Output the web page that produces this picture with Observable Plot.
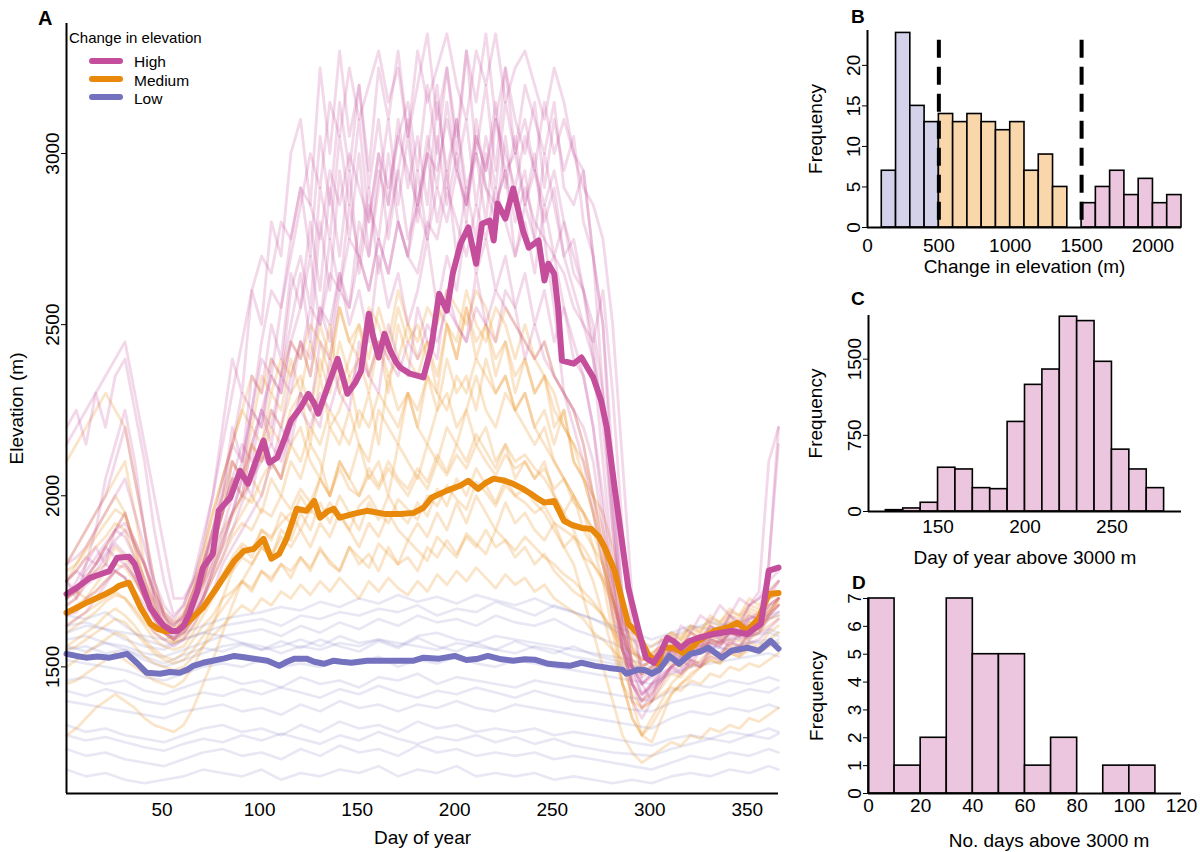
<!DOCTYPE html>
<html><head><meta charset="utf-8">
<script src="https://cdn.jsdelivr.net/npm/d3@7"></script>
<script src="https://cdn.jsdelivr.net/npm/@observablehq/plot@0.6"></script>
<style>
body{margin:0;background:#fff;font-family:"Liberation Sans",Arial,Helvetica,sans-serif;}
#wrap{position:relative;width:1200px;height:852px;overflow:hidden;background:#fff;}
.panel{position:absolute;}
#overlay{position:absolute;left:0;top:0;pointer-events:none;}
</style></head>
<body><div id="wrap">
<div class="panel" id="pA" style="left:0;top:0"></div>
<div class="panel" id="pB" style="left:790px;top:0"></div>
<div class="panel" id="pC" style="left:790px;top:290px"></div>
<div class="panel" id="pD" style="left:790px;top:570px"></div>
<svg id="overlay" width="1200" height="852" font-family="Liberation Sans, Arial, Helvetica, sans-serif">
  <text x="38" y="25" font-size="20" font-weight="bold">A</text>
  <text x="851" y="23" font-size="19" font-weight="bold">B</text>
  <text x="851" y="305" font-size="19" font-weight="bold">C</text>
  <text x="852" y="589" font-size="19" font-weight="bold">D</text>
  <text x="69" y="42.5" font-size="15">Change in elevation</text>
  <line x1="92" x2="120" y1="61" y2="61" stroke="#c44e9c" stroke-width="6" stroke-linecap="round"/>
  <line x1="92" x2="120" y1="79" y2="79" stroke="#e8890c" stroke-width="6" stroke-linecap="round"/>
  <line x1="92" x2="120" y1="97" y2="97" stroke="#7472be" stroke-width="6" stroke-linecap="round"/>
  <text x="134" y="66.7" font-size="15.5">High</text>
  <text x="134" y="85.5" font-size="15.5">Medium</text>
  <text x="134" y="104" font-size="15.5">Low</text>
</svg>
</div>
<script>
const FONT = '"Liberation Sans", Arial, Helvetica, sans-serif';
const groupColor = {High: "#c44e9c", Medium: "#e8890c", Low: "#7472be"};
const histColor = {High: "#ecc5de", Medium: "#fad6ab", Low: "#d4d2ea"};

// ---------- Panel A: mean tracks ----------
const highDay = [1,6,13,18,23,27,33,36,39,44,48,51,55,58,61,64,68,71,76,79,85,90,94,98,102,105,109,113,116,121,125,128,130,135,140,143,145,149,152,156,158,161,164,167,170,172,177,184,188,192,196,199,203,207,211,214,218,220,222,226,230,235,238,243,246,248,251,253,255,261,265,268,271,275,278,282,289,294,298,302,306,309,312,316,320,325,333,342,350,357,361,366];
const highElev = [1713,1730,1760,1770,1780,1819,1822,1800,1751,1673,1640,1620,1605,1605,1620,1655,1720,1790,1830,1956,1995,2073,2035,2100,2161,2097,2111,2170,2219,2257,2298,2270,2240,2320,2400,2340,2298,2330,2365,2532,2470,2404,2473,2424,2390,2375,2357,2346,2433,2590,2541,2649,2737,2784,2678,2795,2804,2746,2854,2810,2898,2775,2725,2746,2629,2678,2649,2550,2395,2386,2404,2375,2346,2280,2199,2023,1731,1614,1526,1512,1547,1585,1576,1556,1575,1585,1596,1605,1596,1626,1781,1790];
const medDay = [1,6,11,16,21,25,28,33,36,39,44,48,51,58,64,71,78,83,87,92,97,102,106,110,114,119,124,128,131,135,138,141,148,155,164,172,179,184,188,196,203,207,212,216,220,225,230,235,239,243,246,251,256,260,265,270,274,277,282,285,289,294,299,304,307,312,318,325,333,340,345,350,356,361,366];
const medElev = [1658,1672,1687,1700,1713,1725,1737,1746,1710,1673,1626,1610,1605,1605,1635,1673,1731,1775,1810,1839,1845,1874,1816,1830,1877,1962,1956,1985,1936,1955,1962,1936,1947,1956,1947,1947,1950,1965,1994,2015,2030,2044,2020,2038,2050,2045,2035,2020,2006,1990,1980,1985,1927,1915,1906,1903,1880,1848,1781,1713,1626,1596,1538,1509,1556,1556,1538,1576,1605,1615,1629,1605,1643,1713,1716];
const lowDay = [1,6,11,17,23,28,32,37,42,49,54,59,63,66,71,76,82,87,92,97,104,110,114,118,124,128,133,138,142,147,155,162,172,179,184,192,200,206,212,217,224,230,236,241,248,253,259,265,272,279,286,288,294,298,301,305,310,315,321,326,330,337,342,350,356,362,366];
const lowElev = [1538,1532,1527,1530,1527,1533,1538,1512,1483,1480,1485,1483,1492,1503,1512,1518,1525,1532,1528,1524,1518,1503,1515,1524,1524,1515,1509,1518,1515,1512,1518,1518,1518,1518,1527,1524,1532,1520,1524,1532,1522,1518,1522,1521,1509,1506,1503,1512,1503,1497,1492,1480,1492,1490,1480,1492,1532,1509,1538,1545,1556,1527,1547,1556,1547,1576,1553];

// ---------- Panel A: individual tracks (faint) ----------
const fiveDays = [1,6,11,16,21,26,31,36,41,46,51,56,61,66,71,76,81,86,91,96,101,106,111,116,121,126,131,136,141,146,151,156,161,166,171,176,181,186,191,196,201,206,211,216,221,226,231,236,241,246,251,256,261,266,271,276,281,286,291,296,301,306,311,316,321,326,331,336,341,346,351,356,361,366];
const tenDays = [1,11,21,31,41,51,61,71,81,91,101,111,121,131,141,151,161,171,181,191,201,211,221,231,241,251,261,271,281,291,301,311,321,331,341,351,361,366];

const highTrack1 = [1750,1780,1820,1800,1850,1900,1880,1820,1760,1680,1620,1600, 1640,1720,1800,1900,2050,2150,2300,2250,2450,2600,2550,2750, 2900,2700,3050,2850,3150,2950,3200,2900,3100,2850,3050,3150, 2950,3200,3000,3250,3050,3300,3000,3200,2950,3250,3100,3000, 3150,2900,3100,2950,3050,2800,2700,2500,2100,1700,1500,1450, 1480,1520,1560,1550,1600,1580,1620,1600,1650,1620,1680,1700,1750,1780];
const highTrack2 = [1750,1700,1800,1900,2050,2150,2250,2100,1900,1700,1620,1580, 1620,1700,1780,1900,2000,2200,2100,2350,2300,2500,2400,2650, 2550,2800,2600,2900,2700,2950,2650,2850,2750,3000,2800,2700, 2950,2750,3050,2850,3000,2800,3100,2900,2800,3050,2850,2950, 2750,3000,2850,2700,2600,2500,2450,2600,2300,1900,1600,1500, 1520,1580,1550,1620,1600,1650,1630,1680,1650,1700,1680,1720,2100,2200];
const highTrack3 = [2200,2250,2150,2300,2200,2350,2400,2250,2100,1900,1750,1650, 1680,1750,1850,2000,2200,2400,2300,2600,2500,2800,2700,3000, 3100,2850,3250,3000,3300,3050,3200,2950,3250,3100,3300,3050, 3200,3350,3100,3250,3000,3300,3150,3350,3100,3250,3000,3200, 3100,3000,3150,2900,2850,2950,2700,2500,2000,1600,1400,1350, 1400,1450,1500,1480,1520,1500,1550,1530,1580,1560,1600,1620,1680,1700];
const highTrack4 = [1700,1720,1750,1780,1820,1860,1830,1780,1700,1650,1600,1580, 1600,1640,1700,1780,1850,1950,2050,2000,2150,2250,2200,2350, 2450,2350,2550,2450,2650,2500,2600,2450,2700,2550,2650,2500, 2600,2750,2550,2700,2600,2800,2650,2750,2600,2700,2550,2650, 2500,2600,2450,2550,2400,2350,2200,1950,1750,1600,1500,1450, 1480,1500,1550,1530,1570,1550,1600,1580,1620,1600,1640,1660,1700,1750];
const highTrack5 = [1800,1850,1900,1950,2000,2100,2200,2050,1900,1750,1650,1620, 1650,1700,1750,1850,1950,2100,2050,2250,2200,2400,2350,2600, 2700,2550,2900,2750,3050,2850,3100,2800,3000,2750,2950,3100, 2850,3050,2900,3150,2950,3100,2850,3050,2900,3150,3000,3100, 2950,3150,3000,3100,3000,2900,2850,2750,2500,2100,1700,1450, 1400,1500,1550,1500,1580,1560,1620,1600,1650,1630,1680,1700,1720,1750];
const highTrack6 = [1650,1660,1700,1720,1750,1780,1760,1700,1650,1600,1580,1560, 1580,1620,1680,1720,1800,1850,1900,1950,2000,2100,2050,2200, 2300,2250,2450,2400,2600,2550,2800,2700,2950,2850,3100,2900, 3050,2850,3150,2950,3100,2900,3000,2800,3100,2950,3000,2850, 2950,2800,2900,2700,2750,2600,2400,2100,1800,1550,1450,1400, 1450,1480,1500,1520,1500,1550,1540,1580,1560,1600,1580,1620,1800,2150];
const highTrack7 = [1700,1750,1800,1850,1800,1900,1950,1850,1800,1700,1640,1620, 1650,1720,1800,1880,1950,2050,2150,2100,2250,2350,2300,2450, 2550,2700,2500,2750,2600,2850,2700,2900,2650,2800,2950,2750, 2850,3000,2800,2950,2700,2900,2750,3000,2850,2950,2700,2800, 2650,2850,2700,2800,2650,2600,2500,2300,2000,1700,1500,1420, 1450,1500,1520,1560,1540,1580,1600,1590,1620,1610,1650,1640,1680,1700];
const highTrack8 = [1750,1720,1780,1820,1860,1900,1920,1870,1800,1720,1650,1600, 1620,1680,1760,1850,1950,2050,2000,2150,2250,2150,2350,2500, 2650,2450,2800,2600,2950,2750,3000,2700,2900,3100,2850,3050, 2800,3000,3200,2900,3100,2850,3050,2950,3150,2900,3050,2850, 3000,2750,2550,2300,2200,2100,1950,1800,1650,1550,1480,1420, 1450,1470,1500,1530,1520,1550,1570,1560,1600,1590,1620,1610,1650,1680];
const highTrack9 = [1700,1730,1760,1800,1850,1820,1800,1760,1700,1650,1620,1600, 1620,1660,1720,1800,1880,1950,2000,2050,2100,2150,2100,2200, 2250,2200,2300,2250,2350,2300,2400,2350,2450,2400,2350,2450, 2400,2500,2450,2550,2500,2450,2550,2500,2600,2550,2500,2450, 2400,2450,2350,2300,2250,2200,2100,1900,1700,1550,1500,1480, 1500,1520,1550,1540,1570,1560,1600,1590,1620,1610,1640,1650,1700,1720];
const highTrack10 = [2150,2200,2250,2300,2350,2400,2450,2300,2150,2000,1850,1700, 1700,1750,1800,1900,2000,2150,2100,2250,2200,2350,2300,2450, 2400,2550,2500,2650,2600,2750,2700,2600,2750,2650,2800,2700, 2850,2750,2900,2800,2950,2850,3000,2900,2850,2950,2800,2900, 2800,2750,2700,2650,2550,2500,2400,2250,1950,1650,1450,1380, 1420,1460,1500,1520,1550,1540,1580,1570,1600,1590,1620,1640,1800,2200];
const highTrack11 = [1750,1780,1760,1800,1830,1870,1900,1860,1800,1720,1660,1630, 1640,1680,1740,1820,1900,2000,2100,2250,2400,2350,2550,2700, 2850,3000,2900,3150,3050,3250,3100,3200,3300,3150,3250,3050, 3300,3150,3250,3350,3200,3100,3300,3200,3350,3150,3250,3300, 3200,3100,3250,3150,3000,2950,2700,2300,1900,1600,1450,1400, 1430,1470,1500,1490,1520,1510,1550,1540,1570,1560,1590,1600,1640,1660];
const highTrack12 = [1680,1700,1740,1760,1800,1780,1760,1720,1680,1640,1600,1590, 1610,1650,1700,1760,1820,1900,1980,2050,2120,2080,2200,2150, 2300,2250,2200,2400,2300,2250,2450,2350,2300,2500,2400,2350, 2550,2450,2400,2600,2500,2450,2650,2500,2450,2600,2550,2400, 2500,2400,2350,2300,2250,2150,2000,1850,1700,1580,1500,1470, 1490,1510,1530,1520,1550,1540,1570,1560,1590,1580,1610,1620,1650,1680];
const highTrack13 = [1800,1820,1850,1900,1950,2000,2050,1950,1850,1750,1680,1640, 1680,1760,1880,2000,2150,2300,2450,2600,2700,2650,2800,2750, 2900,2850,2750,2950,2850,3000,2900,2800,3000,2900,3050,2950, 2850,3000,2950,3100,2950,2850,3050,2950,3100,3000,2900,3050, 2950,2850,2950,2800,2700,2600,2450,2200,1900,1650,1500,1450, 1470,1500,1530,1520,1560,1550,1580,1570,1600,1590,1620,1630,1660,1700];
const highTrack14 = [1620,1640,1660,1700,1740,1780,1800,1760,1700,1640,1600,1580, 1600,1640,1700,1780,1860,1950,2050,2150,2250,2200,2350,2300, 2450,2400,2550,2500,2650,2550,2700,2600,2750,2650,2800,2700, 2650,2800,2750,2900,2800,2700,2850,2750,2900,2800,2700,2850, 2750,2650,2700,2550,2450,2350,2200,2000,1750,1550,1450,1420, 1440,1460,1490,1480,1510,1500,1530,1520,1550,1540,1570,1580,1610,1640];

const medTrack1 = [1750,1780,1820,1850,1880,1920,1900,1820,1720,1650,1600,1580, 1620,1700,1800,1900,2000,2100,2050,2150,2100,2250,2200,2300, 2350,2250,2400,2300,2450,2350,2400,2300,2450,2350,2400,2500, 2400,2450,2350,2500,2400,2550,2450,2500,2400,2450,2350,2400, 2300,2350,2250,2200,2150,2100,2000,1950,1850,1700,1550,1500, 1520,1560,1600,1580,1620,1600,1650,1630,1670,1650,1700,1680,1720,1750];
const medTrack2 = [1650,1680,1700,1720,1750,1780,1760,1700,1650,1620,1600,1580, 1600,1650,1700,1780,1850,1900,1950,2000,1950,2050,2000,2100, 2050,2150,2100,2000,2100,2050,2150,2050,2100,2000,2150,2100, 2050,2150,2100,2200,2150,2250,2150,2200,2100,2150,2050,2100, 2050,2100,2000,1950,2000,1900,1850,1800,1700,1600,1520,1500, 1520,1550,1570,1560,1600,1580,1620,1600,1640,1620,1660,1650,1680,1700];
const medTrack3 = [1620,1640,1660,1680,1700,1720,1700,1660,1620,1580,1560,1550, 1560,1600,1650,1700,1750,1780,1820,1800,1850,1820,1880,1850, 1900,1850,1920,1880,1950,1900,1850,1920,1880,1950,1900,1870, 1920,1880,1950,1900,1980,1920,2000,1950,1900,1980,1920,1950, 1900,1870,1920,1850,1880,1820,1800,1750,1680,1600,1550,1520, 1540,1560,1580,1570,1600,1590,1610,1600,1630,1620,1650,1640,1660,1680];
const medTrack4 = [1700,1720,1760,1800,1850,1900,1950,1850,1750,1680,1620,1600, 1640,1720,1820,1950,2050,2150,2250,2200,2350,2300,2400,2350, 2450,2350,2500,2400,2550,2450,2500,2400,2550,2450,2600,2500, 2450,2550,2500,2600,2550,2500,2600,2550,2450,2550,2500,2450, 2400,2450,2350,2300,2250,2150,2000,1850,1650,1450,1350,1300, 1350,1400,1450,1480,1500,1520,1550,1530,1560,1550,1580,1600,1650,1700];
const medTrack5 = [1560,1580,1600,1620,1650,1670,1650,1620,1580,1550,1530,1520, 1540,1580,1620,1650,1700,1720,1750,1720,1780,1750,1800,1760, 1820,1780,1850,1800,1780,1850,1800,1830,1780,1850,1800,1820, 1780,1850,1820,1870,1830,1880,1850,1900,1850,1870,1820,1850, 1800,1830,1780,1750,1720,1700,1680,1650,1600,1550,1500,1480, 1500,1520,1540,1530,1560,1550,1580,1570,1600,1590,1620,1610,1640,1650];
const medTrack6 = [1800,1850,1900,1950,2000,2050,2100,1950,1800,1700,1650,1620, 1650,1720,1800,1850,1950,2050,2000,2150,2100,2200,2150,2250, 2300,2150,2350,2200,2250,2350,2200,2300,2150,2350,2250,2300, 2200,2350,2250,2400,2300,2350,2250,2400,2300,2350,2250,2300, 2200,2250,2150,2250,2100,2050,2000,1900,1750,1550,1400,1300, 1280,1350,1420,1450,1480,1500,1520,1510,1550,1540,1570,1560,1600,1620];
const medTrack7 = [1680,1700,1750,1780,1800,1850,1820,1760,1700,1640,1600,1570, 1590,1640,1700,1760,1820,1880,1920,1900,1960,1940,2000,1960, 2020,1980,2050,2000,2080,2020,2000,2060,2020,2080,2040,2000, 2060,2020,2100,2060,2120,2080,2150,2100,2060,2120,2080,2100, 2050,2080,2020,2050,1980,1950,1900,1850,1750,1650,1560,1520, 1540,1560,1590,1580,1610,1600,1630,1620,1650,1640,1670,1660,1700,1720];
const medTrack8 = [2100,2150,2200,2250,2300,2250,2200,2050,1900,1750,1650,1600, 1620,1680,1750,1850,1900,1950,2000,2050,2000,2100,2050,2150, 2100,2200,2150,2250,2200,2150,2250,2200,2300,2250,2200,2300, 2250,2350,2300,2250,2350,2300,2400,2350,2300,2350,2250,2300, 2200,2150,2100,2050,2000,1950,1850,1750,1600,1450,1350,1300, 1330,1380,1420,1450,1470,1500,1520,1510,1540,1530,1560,1550,1580,1600];
const medTrack9 = [1500,1520,1540,1560,1580,1600,1590,1560,1530,1510,1500,1490, 1500,1530,1560,1590,1620,1650,1680,1660,1700,1680,1720,1700, 1740,1710,1750,1720,1760,1730,1700,1750,1720,1760,1730,1710, 1750,1720,1770,1740,1780,1750,1790,1760,1730,1770,1740,1760, 1720,1740,1700,1680,1660,1640,1600,1580,1550,1520,1500,1480, 1490,1500,1510,1500,1520,1510,1530,1520,1540,1530,1550,1540,1560,1570];
const medTrack10 = [1750,1800,1850,1900,1950,2000,1950,1850,1750,1680,1620,1600, 1620,1680,1750,1850,1950,2100,2050,2200,2150,2300,2250,2400, 2300,2450,2350,2500,2300,2400,2500,2350,2450,2300,2500,2400, 2350,2450,2300,2500,2400,2550,2400,2500,2350,2450,2300,2400, 2300,2350,2200,2250,2100,2050,1950,1850,1700,1550,1450,1400, 1420,1460,1500,1520,1550,1540,1580,1570,1600,1590,1630,1620,1660,1700];
const medTrack11 = [1300,1320,1350,1380,1400,1420,1400,1380,1350,1330,1320,1310, 1330,1380,1450,1520,1600,1680,1750,1800,1850,1820,1900,1870, 1950,1900,1980,1920,2000,1950,1900,1980,1930,2000,1950,1920, 1980,1940,2020,1970,2050,2000,2080,2030,1980,2050,2000,2020, 1980,1950,1900,1850,1800,1700,1600,1500,1400,1300,1250,1220, 1240,1260,1280,1270,1300,1290,1320,1310,1330,1320,1350,1340,1360,1380];
const medTrack12 = [1450,1460,1480,1500,1520,1540,1520,1500,1480,1460,1450,1440, 1460,1500,1560,1620,1700,1780,1850,1820,1900,1870,1950,1920, 2000,1950,2050,2000,2100,2050,2000,2080,2030,2100,2050,2020, 2080,2040,2120,2070,2150,2100,2180,2130,2080,2150,2100,2120, 2080,2050,2000,1950,1900,1820,1750,1650,1550,1450,1400,1380, 1400,1420,1440,1430,1460,1450,1480,1470,1500,1490,1510,1500,1520,1540];
const medTrack13 = [1700,1720,1700,1740,1780,1800,1790,1750,1700,1660,1630,1610, 1630,1680,1740,1800,1870,1940,2000,1980,2050,2100,2050,2150, 2200,2100,2050,2200,2150,2250,2150,2100,2250,2200,2150,2300, 2200,2150,2250,2300,2200,2250,2350,2250,2200,2300,2250,2200, 2150,2200,2100,2050,2000,1950,1900,1800,1700,1600,1520,1480, 1500,1520,1550,1540,1570,1560,1590,1580,1610,1600,1630,1640,1670,1690];
const medTrack14 = [1600,1620,1640,1660,1690,1710,1700,1670,1630,1600,1580,1570, 1580,1620,1670,1720,1770,1820,1860,1840,1900,1880,1920,1950, 1900,1960,1930,1980,1940,1900,1970,2000,1950,1920,1990,1960, 1930,2000,1970,2030,1990,1960,2040,2010,1970,2030,2000,1980, 1950,1970,1920,1900,1880,1850,1800,1760,1700,1630,1580,1550, 1560,1580,1600,1590,1620,1610,1640,1630,1660,1650,1680,1670,1700,1710];
const medTrack15 = [1780,1800,1840,1880,1920,1960,1940,1870,1790,1720,1660,1630, 1660,1740,1840,1950,2050,2150,2250,2350,2300,2400,2350,2450, 2400,2500,2450,2350,2550,2450,2400,2550,2500,2400,2550,2450, 2500,2400,2550,2500,2450,2600,2500,2450,2550,2500,2400,2500, 2400,2350,2300,2200,2150,2050,1950,1800,1650,1500,1420,1380, 1400,1440,1480,1470,1510,1500,1540,1530,1570,1560,1600,1610,1650,1680];
const medTrack16 = [1550,1560,1580,1600,1620,1640,1630,1600,1570,1540,1520,1510, 1520,1550,1590,1630,1670,1710,1750,1730,1780,1760,1800,1780, 1820,1790,1840,1810,1780,1850,1820,1790,1860,1830,1800,1870, 1840,1810,1880,1850,1820,1890,1860,1830,1900,1870,1840,1880, 1850,1820,1800,1770,1750,1720,1690,1650,1610,1570,1540,1520, 1530,1540,1550,1545,1560,1555,1570,1565,1580,1575,1590,1600,1620,1640];

const lowTrack1 = [1600,1620,1610,1580,1560,1550,1580,1600,1620,1630,1640,1620,1650,1640,1660,1650,1670,1660,1680,1650,1670,1660,1690,1670,1650,1680,1660,1640,1620,1600,1580,1600,1620,1610,1630,1620,1640,1650];
const lowTrack2 = [1550,1560,1540,1550,1520,1500,1520,1540,1560,1570,1550,1560,1580,1560,1590,1570,1580,1560,1590,1600,1580,1570,1590,1580,1570,1560,1550,1540,1530,1520,1500,1540,1560,1570,1580,1590,1600,1590];
const lowTrack3 = [1460,1470,1450,1460,1430,1420,1440,1460,1470,1450,1460,1440,1470,1450,1460,1440,1470,1460,1480,1450,1470,1460,1450,1440,1460,1450,1440,1430,1420,1410,1400,1430,1450,1440,1460,1450,1470,1460];
const lowTrack4 = [1400,1390,1380,1370,1360,1350,1370,1380,1390,1370,1380,1360,1390,1370,1400,1380,1390,1370,1390,1380,1400,1380,1370,1390,1380,1370,1360,1350,1340,1330,1320,1350,1370,1360,1380,1370,1390,1380];
const lowTrack5 = [1330,1310,1320,1300,1290,1280,1300,1320,1330,1310,1320,1300,1330,1310,1340,1320,1330,1310,1340,1320,1330,1310,1320,1310,1320,1300,1310,1300,1290,1280,1270,1290,1300,1290,1310,1300,1320,1310];
const lowTrack6 = [1260,1240,1250,1230,1220,1210,1230,1250,1260,1240,1250,1230,1260,1240,1270,1250,1260,1240,1270,1250,1260,1240,1250,1240,1250,1230,1240,1230,1220,1210,1200,1220,1240,1230,1250,1240,1260,1250];
const lowTrack7 = [1200,1180,1190,1170,1160,1170,1180,1200,1190,1180,1200,1170,1190,1180,1200,1190,1210,1180,1200,1190,1210,1180,1190,1180,1190,1170,1180,1170,1160,1170,1160,1180,1190,1180,1200,1190,1210,1200];
const lowTrack8 = [1650,1640,1660,1620,1580,1560,1580,1600,1590,1570,1560,1540,1560,1550,1570,1560,1580,1570,1560,1550,1570,1560,1550,1540,1560,1550,1530,1520,1510,1500,1490,1520,1540,1560,1550,1570,1580,1570];
const lowTrack9 = [1520,1510,1500,1490,1470,1460,1480,1500,1510,1500,1520,1500,1510,1500,1520,1510,1530,1500,1520,1510,1530,1510,1500,1520,1510,1500,1490,1480,1470,1460,1450,1480,1500,1510,1520,1530,1540,1530];
const lowTrack10 = [1580,1590,1570,1560,1540,1530,1550,1570,1590,1600,1610,1590,1620,1600,1630,1610,1640,1620,1650,1630,1640,1620,1650,1630,1620,1640,1610,1590,1570,1540,1520,1550,1570,1580,1600,1590,1610,1600];
const lowTrack11 = [1560,1545,1570,1550,1530,1510,1535,1555,1545,1565,1550,1575,1555,1580,1560,1545,1575,1555,1585,1560,1545,1570,1550,1575,1555,1540,1560,1535,1520,1505,1490,1525,1545,1560,1550,1575,1565,1580];
const lowTrack12 = [1430,1415,1435,1420,1400,1390,1410,1425,1415,1435,1420,1440,1425,1410,1435,1420,1445,1425,1410,1430,1420,1440,1425,1410,1430,1415,1400,1395,1385,1375,1370,1395,1410,1425,1415,1435,1425,1440];
const lowTrack13 = [1300,1285,1295,1280,1265,1255,1275,1290,1280,1300,1285,1305,1290,1275,1300,1285,1310,1290,1275,1295,1285,1300,1280,1295,1275,1290,1270,1260,1250,1245,1240,1260,1275,1290,1280,1300,1290,1305];
const lowTrack14 = [1620,1630,1610,1600,1590,1580,1600,1620,1640,1650,1660,1675,1665,1690,1675,1700,1685,1710,1690,1705,1685,1710,1695,1680,1700,1675,1660,1640,1610,1580,1560,1590,1610,1630,1620,1640,1650,1660];

// ---------- Histograms ----------
const changeBinStart = [100,200,300,400,500,600,700,800,900,1000,1100,1200,1300,1400,1500,1600,1700,1800,1900,2000,2100];
const changeCounts = [7,24,15,13,14,13,14,13,12,13,7,9,5,0,3,5,7,4,6,3,4];
const changeCutoffs = [500, 1500];
const dayBinStart = [120,130,140,150,160,170,180,190,200,210,220,230,240,250,260,270];
const dayCounts = [13,30,86,431,414,230,220,882,1247,1398,1918,1875,1474,609,414,230];
const nDaysBinStart = [0,10,20,30,40,50,60,70,80,90,100];
const nDaysCounts = [7,1,2,7,5,5,1,2,0,1,1];

// ---------- build tables ----------
function track(days, vals, id, group) { return vals.map((v, i) => ({day: days[i], elev: v, id, group})); }
const faintHigh = [highTrack1,highTrack2,highTrack3,highTrack4,highTrack5,highTrack6,highTrack7,highTrack8,highTrack9,highTrack10,highTrack11,highTrack12,highTrack13,highTrack14].flatMap((t, k) => track(fiveDays, t, "h" + k, "High"));
const faintMed = [medTrack1,medTrack2,medTrack3,medTrack4,medTrack5,medTrack6,medTrack7,medTrack8,medTrack9,medTrack10,medTrack11,medTrack12,medTrack13,medTrack14,medTrack15,medTrack16].flatMap((t, k) => track(fiveDays, t, "m" + k, "Medium"));
const faintLow = [lowTrack1,lowTrack2,lowTrack3,lowTrack4,lowTrack5,lowTrack6,lowTrack7,lowTrack8,lowTrack9,lowTrack10,lowTrack11,lowTrack12,lowTrack13,lowTrack14].flatMap((t, k) => track(tenDays, t, "l" + k, "Low"));
const meanHigh = track(highDay, highElev, "H", "High");
const meanMed = track(medDay, medElev, "M", "Medium");
const meanLow = track(lowDay, lowElev, "L", "Low");

const fmt = d => String(d);
function titles(xLabel, yLabel, xdx, xdy, ydx) {
  return [
    Plot.text([xLabel], {text: d => d, frameAnchor: "bottom", textAnchor: "middle", lineAnchor: "middle", dx: xdx, dy: xdy, fontSize: 19, fill: "#000"}),
    Plot.text([yLabel], {text: d => d, frameAnchor: "left", textAnchor: "middle", lineAnchor: "middle", rotate: -90, dx: ydx, fontSize: 19, fill: "#000"})
  ];
}
const baseStyle = {fontFamily: FONT, fontSize: "19px", background: "transparent", color: "#000", overflow: "visible"};

// ---------- Panel A ----------
const plotA = Plot.plot({
  width: 800, height: 852,
  marginLeft: 66, marginRight: 22, marginTop: 23, marginBottom: 59,
  style: baseStyle,
  x: {domain: [1, 366], ticks: [50,100,150,200,250,300,350], tickSize: 0, tickPadding: 9, tickFormat: fmt, label: null},
  y: {domain: [1130, 3380], ticks: [1500,2000,2500,3000], tickSize: 5, tickPadding: 3, tickRotate: -90, tickFormat: fmt, label: null},
  marks: [
    Plot.line(faintLow, {x: "day", y: "elev", z: "id", stroke: groupColor.Low, strokeOpacity: 0.17, strokeWidth: 2.6}),
    Plot.line(faintMed, {x: "day", y: "elev", z: "id", stroke: groupColor.Medium, strokeOpacity: 0.22, strokeWidth: 2.8}),
    Plot.line(faintHigh, {x: "day", y: "elev", z: "id", stroke: groupColor.High, strokeOpacity: 0.22, strokeWidth: 2.8}),
    Plot.line(meanMed, {x: "day", y: "elev", stroke: groupColor.Medium, strokeWidth: 6, strokeLinejoin: "round", strokeLinecap: "round"}),
    Plot.line(meanHigh, {x: "day", y: "elev", stroke: groupColor.High, strokeWidth: 6, strokeLinejoin: "round", strokeLinecap: "round"}),
    Plot.line(meanLow, {x: "day", y: "elev", stroke: groupColor.Low, strokeWidth: 6, strokeLinejoin: "round", strokeLinecap: "round"}),
    Plot.ruleX([1], {stroke: "#000", strokeWidth: 2}),
    Plot.ruleY([1130], {stroke: "#000", strokeWidth: 2}),
    ...titles("Day of year", "Elevation (m)", 0, 44, -50)
  ]
});
document.getElementById("pA").appendChild(plotA);

// ---------- Panel B ----------
const changeBins = changeBinStart.map((s, i) => ({x1: s, x2: s + 100, n: changeCounts[i], group: s < changeCutoffs[0] ? "Low" : s < changeCutoffs[1] ? "Medium" : "High"}));
const plotB = Plot.plot({
  width: 410, height: 290,
  marginLeft: 77, marginRight: 19, marginTop: 30, marginBottom: 63,
  style: baseStyle,
  x: {domain: [0, 2200], ticks: [0,500,1000,1500,2000], tickSize: 0, tickPadding: 11, tickFormat: fmt, label: null},
  y: {domain: [0, 24.3], ticks: [0,5,10,15,20], tickSize: 5, tickPadding: 3, tickRotate: -90, tickFormat: fmt, label: null},
  marks: [
    Plot.rectY(changeBins.filter(d => d.n > 0), {x1: "x1", x2: "x2", y1: 0, y2: "n", fill: d => histColor[d.group], stroke: "#000", strokeWidth: 1.6}),
    Plot.ruleX(changeCutoffs, {y1: 23.1, y2: 0, stroke: "#000", strokeWidth: 4, strokeDasharray: "18,9"}),
    Plot.ruleX([0], {stroke: "#000", strokeWidth: 2}),
    Plot.ruleY([0], {stroke: "#000", strokeWidth: 2}),
    ...titles("Change in elevation (m)", "Frequency", 0, 39, -51.5)
  ]
});
document.getElementById("pB").appendChild(plotB);

// ---------- Panel C ----------
const dayBins = dayBinStart.map((s, i) => ({x1: s, x2: s + 10, n: dayCounts[i]}));
const plotC = Plot.plot({
  width: 410, height: 280,
  marginLeft: 78, marginRight: 19, marginTop: 25, marginBottom: 59,
  style: baseStyle,
  x: {domain: [110, 290], ticks: [150,200,250], tickSize: 0, tickPadding: 8, tickFormat: fmt, label: null},
  y: {domain: [0, 1930], ticks: [0,750,1500], tickSize: 5, tickPadding: 3, tickRotate: -90, tickFormat: fmt, label: null},
  marks: [
    Plot.rectY(dayBins, {x1: "x1", x2: "x2", y1: 0, y2: "n", fill: histColor.High, stroke: "#000", strokeWidth: 1.6}),
    Plot.ruleX([110], {stroke: "#000", strokeWidth: 2}),
    Plot.ruleY([0], {stroke: "#000", strokeWidth: 2}),
    ...titles("Day of year above 3000 m", "Frequency", 0, 46, -52.5)
  ]
});
document.getElementById("pC").appendChild(plotC);

// ---------- Panel D ----------
const nDaysBins = nDaysBinStart.map((s, i) => ({x1: s, x2: s + 10, n: nDaysCounts[i]}));
const plotD = Plot.plot({
  width: 410, height: 282,
  marginLeft: 78, marginRight: 19, marginTop: 28, marginBottom: 59,
  style: baseStyle,
  x: {domain: [0, 120], ticks: [0,20,40,60,80,100,120], tickSize: 0, tickPadding: 5, tickFormat: fmt, label: null},
  y: {domain: [0, 7], ticks: [0,1,2,3,4,5,6,7], tickSize: 5, tickPadding: 3, tickRotate: -90, tickFormat: fmt, label: null},
  marks: [
    Plot.rectY(nDaysBins.filter(d => d.n > 0), {x1: "x1", x2: "x2", y1: 0, y2: "n", fill: histColor.High, stroke: "#000", strokeWidth: 1.6}),
    Plot.ruleX([0], {stroke: "#000", strokeWidth: 2}),
    Plot.ruleY([0], {stroke: "#000", strokeWidth: 2}),
    ...titles("No. days above 3000 m", "Frequency", 24, 47, -52)
  ]
});
document.getElementById("pD").appendChild(plotD);
</script>
</body></html>
